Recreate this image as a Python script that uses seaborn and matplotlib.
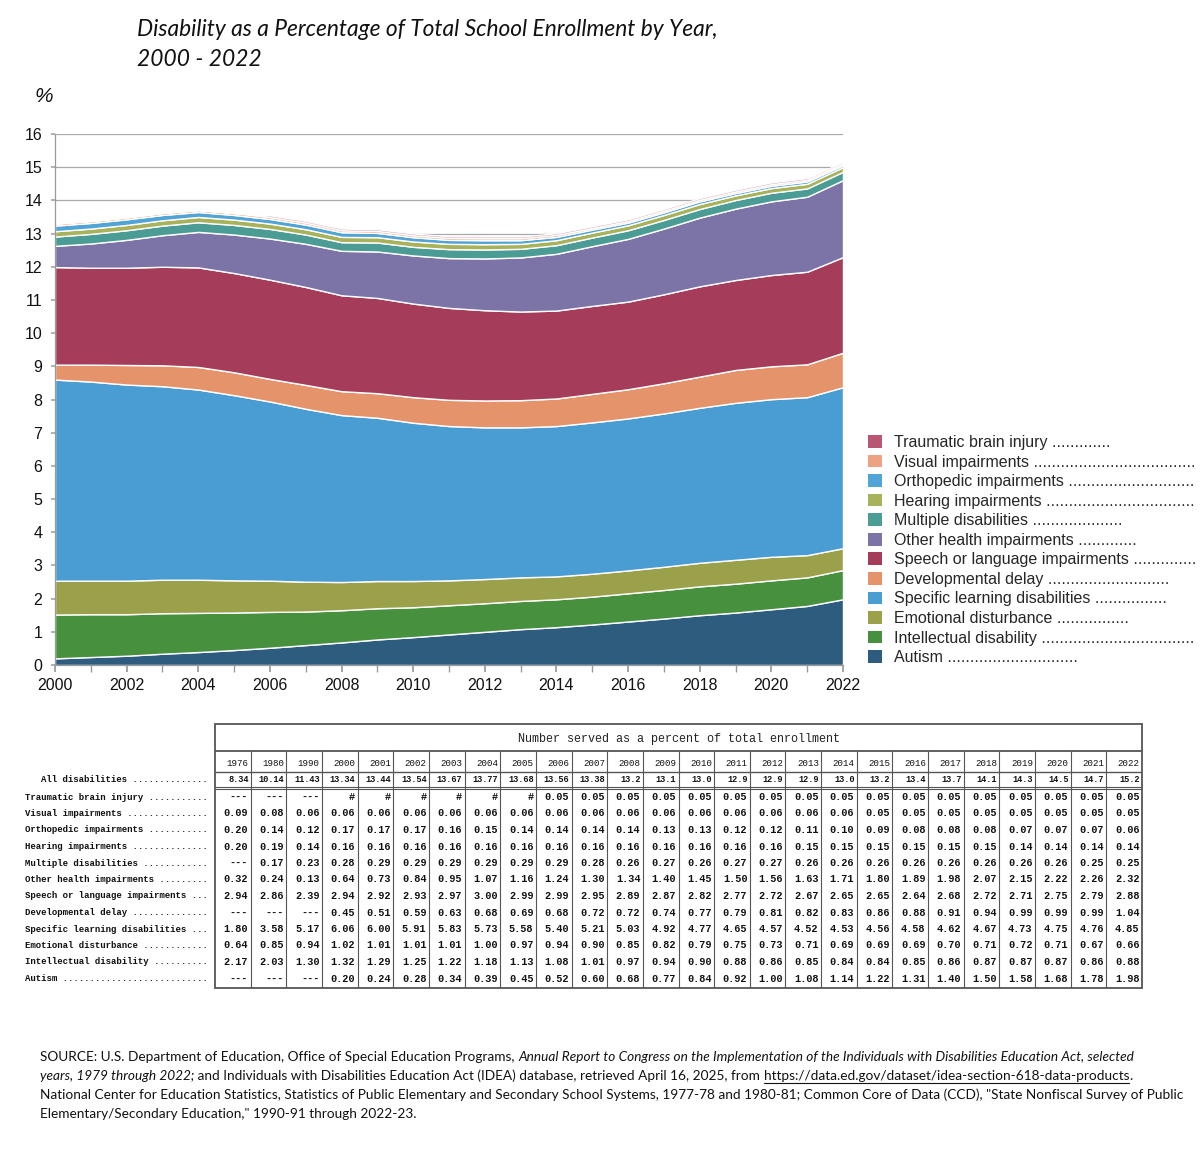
import matplotlib
matplotlib.use("Agg")
import matplotlib.pyplot as plt
import pandas as pd
import seaborn as sns
from matplotlib.patches import Patch, Rectangle
from matplotlib.lines import Line2D

# === Table data (Number served as a percent of total enrollment) ===
table_years = [1976, 1980, 1990, 2000, 2001, 2002, 2003, 2004, 2005, 2006, 2007, 2008,
               2009, 2010, 2011, 2012, 2013, 2014, 2015, 2016, 2017, 2018, 2019, 2020,
               2021, 2022]
all_disabilities = ["8.34", "10.14", "11.43", "13.34", "13.44", "13.54", "13.67", "13.77",
                    "13.68", "13.56", "13.38", "13.2", "13.1", "13.0", "12.9", "12.9", "12.9",
                    "13.0", "13.2", "13.4", "13.7", "14.1", "14.3", "14.5", "14.7", "15.2"]

traumatic_brain = ["---", "---", "---", "#", "#", "#", "#", "#", "#", "0.05", "0.05", "0.05",
                   "0.05", "0.05", "0.05", "0.05", "0.05", "0.05", "0.05", "0.05", "0.05",
                   "0.05", "0.05", "0.05", "0.05", "0.05"]
visual = ["0.09", "0.08", "0.06", "0.06", "0.06", "0.06", "0.06", "0.06", "0.06", "0.06",
          "0.06", "0.06", "0.06", "0.06", "0.06", "0.06", "0.06", "0.06", "0.05", "0.05",
          "0.05", "0.05", "0.05", "0.05", "0.05", "0.05"]
orthopedic = ["0.20", "0.14", "0.12", "0.17", "0.17", "0.17", "0.16", "0.15", "0.14", "0.14",
              "0.14", "0.14", "0.13", "0.13", "0.12", "0.12", "0.11", "0.10", "0.09", "0.08",
              "0.08", "0.08", "0.07", "0.07", "0.07", "0.06"]
hearing = ["0.20", "0.19", "0.14", "0.16", "0.16", "0.16", "0.16", "0.16", "0.16", "0.16",
           "0.16", "0.16", "0.16", "0.16", "0.16", "0.16", "0.15", "0.15", "0.15", "0.15",
           "0.15", "0.15", "0.14", "0.14", "0.14", "0.14"]
multiple = ["---", "0.17", "0.23", "0.28", "0.29", "0.29", "0.29", "0.29", "0.29", "0.29",
            "0.28", "0.26", "0.27", "0.26", "0.27", "0.27", "0.26", "0.26", "0.26", "0.26",
            "0.26", "0.26", "0.26", "0.26", "0.25", "0.25"]
other_health = ["0.32", "0.24", "0.13", "0.64", "0.73", "0.84", "0.95", "1.07", "1.16", "1.24",
                "1.30", "1.34", "1.40", "1.45", "1.50", "1.56", "1.63", "1.71", "1.80", "1.89",
                "1.98", "2.07", "2.15", "2.22", "2.26", "2.32"]
speech = ["2.94", "2.86", "2.39", "2.94", "2.92", "2.93", "2.97", "3.00", "2.99", "2.99",
          "2.95", "2.89", "2.87", "2.82", "2.77", "2.72", "2.67", "2.65", "2.65", "2.64",
          "2.68", "2.72", "2.71", "2.75", "2.79", "2.88"]
developmental = ["---", "---", "---", "0.45", "0.51", "0.59", "0.63", "0.68", "0.69", "0.68",
                 "0.72", "0.72", "0.74", "0.77", "0.79", "0.81", "0.82", "0.83", "0.86", "0.88",
                 "0.91", "0.94", "0.99", "0.99", "0.99", "1.04"]
learning = ["1.80", "3.58", "5.17", "6.06", "6.00", "5.91", "5.83", "5.73", "5.58", "5.40",
            "5.21", "5.03", "4.92", "4.77", "4.65", "4.57", "4.52", "4.53", "4.56", "4.58",
            "4.62", "4.67", "4.73", "4.75", "4.76", "4.85"]
emotional = ["0.64", "0.85", "0.94", "1.02", "1.01", "1.01", "1.01", "1.00", "0.97", "0.94",
             "0.90", "0.85", "0.82", "0.79", "0.75", "0.73", "0.71", "0.69", "0.69", "0.69",
             "0.70", "0.71", "0.72", "0.71", "0.67", "0.66"]
intellectual = ["2.17", "2.03", "1.30", "1.32", "1.29", "1.25", "1.22", "1.18", "1.13", "1.08",
                "1.01", "0.97", "0.94", "0.90", "0.88", "0.86", "0.85", "0.84", "0.84", "0.85",
                "0.86", "0.87", "0.87", "0.87", "0.86", "0.88"]
autism = ["---", "---", "---", "0.20", "0.24", "0.28", "0.34", "0.39", "0.45", "0.52", "0.60",
          "0.68", "0.77", "0.84", "0.92", "1.00", "1.08", "1.14", "1.22", "1.31", "1.40",
          "1.50", "1.58", "1.68", "1.78", "1.98"]

# Table rows, top to bottom
row_names = ["Traumatic brain injury", "Visual impairments", "Orthopedic impairments",
             "Hearing impairments", "Multiple disabilities", "Other health impairments",
             "Speech or language impairments", "Developmental delay",
             "Specific learning disabilities", "Emotional disturbance",
             "Intellectual disability", "Autism"]
row_values = [traumatic_brain, visual, orthopedic, hearing, multiple, other_health, speech,
              developmental, learning, emotional, intellectual, autism]

# number of leader dots after each legend label (None = dots run to the figure edge)
legend_dots = [13, None, None, None, 20, 13, None, 27, 16, 16, None, 29]
colors = ["#b85673", "#eda383", "#50a4d6", "#a8b25b", "#4a9c95", "#7c74a6",
          "#a43c5a", "#e5936a", "#4a9dd3", "#9ba14a", "#47913e", "#2e5c7f"]

W, H = 1200, 1158


def to_num(v):
    return 0.0 if v in ("---", "#") else float(v)


# chart uses 2000-2022 columns
chart_years = table_years[3:]
df = pd.DataFrame({name: [to_num(v) for v in vals[3:]]
                   for name, vals in zip(row_names, row_values)}, index=chart_years)
stack_cols = row_names[::-1]  # autism at the bottom
stack_colors = colors[::-1]

sns.set_theme(style="white")
plt.rcParams["font.family"] = ["Liberation Sans", "DejaVu Sans"]

fig = plt.figure(figsize=(W / 100, H / 100), dpi=100)
fig.patch.set_facecolor("white")
renderer = fig.canvas.get_renderer()


def text_width(s, **kw):
    t = fig.text(0, 0, "|" + s + "|", **kw)
    t2 = fig.text(0, 0, "||", **kw)
    w = t.get_window_extent(renderer).width - t2.get_window_extent(renderer).width
    t.remove()
    t2.remove()
    return w


def fill_dots(name, width_px, **kw):
    s = name + " "
    while text_width(s + ".", **kw) <= width_px:
        s += "."
    return s


# 1. Stacked area chart
ax = fig.add_axes([55 / W, 1 - 665 / H, 788 / W, 531 / H])
ax.stackplot(df.index, [df[c].values for c in stack_cols], colors=stack_colors,
             edgecolor="white", linewidth=1.0)
ax.set_xlim(2000, 2022)
ax.set_ylim(0, 16)
ax.set_yticks(range(0, 17))
ax.set_xticks(range(2000, 2023, 2))
ax.set_xticks(chart_years, minor=True)
ax.yaxis.grid(True, color="#a8a8a8", linewidth=0.9)
ax.xaxis.grid(False)
ax.set_axisbelow(True)
sns.despine(ax=ax, top=True, right=True)
for s in ["left", "bottom"]:
    ax.spines[s].set_color("#9a9a9a")
    ax.spines[s].set_linewidth(0.9)
ax.tick_params(axis="x", which="both", bottom=True, direction="out", length=5,
               color="#9a9a9a", labelsize=11.5, pad=4)
ax.tick_params(axis="y", left=True, length=3, color="#a8a8a8", labelsize=11.5, pad=6)
for lbl in ax.get_xticklabels() + ax.get_yticklabels():
    lbl.set_color("#111111")

leg_size = 11.5
leg_labels = []
for name, nd in zip(row_names, legend_dots):
    if nd is None:
        leg_labels.append(fill_dots(name, 1197 - 893, fontsize=leg_size))
    else:
        leg_labels.append(name + " " + "." * nd)
handles = [Patch(facecolor=c, edgecolor="none") for c in colors]
ax.legend(handles, leg_labels, loc="upper left",
          bbox_to_anchor=(868 / W, 1 - 435 / H), bbox_transform=fig.transFigure,
          frameon=False, fontsize=leg_size, handlelength=0.85, handleheight=0.85,
          handletextpad=0.75, labelspacing=0.285, borderpad=0, borderaxespad=0)

# Title and unit label
title_font = dict(family=["Lato", "DejaVu Sans"], style="italic", fontsize=16.4,
                  color="#111111")
fig.text(137 / W, 1 - 30 / H, "Disability as a Percentage of Total School Enrollment by Year,",
         va="center", **title_font)
fig.text(137 / W, 1 - 59 / H, "2000 - 2022", va="center", **title_font)
fig.text(35 / W, 1 - 97 / H, "%", va="center", family=["Liberation Sans"], style="italic",
         fontsize=15, color="#111111")

# 2. Table
mono = ["Liberation Mono", "DejaVu Sans Mono"]
top_px, bot_px = 724, 988
tax = fig.add_axes([215 / W, 1 - bot_px / H, 927 / W, (bot_px - top_px) / H])
tax.set_xlim(0, len(table_years))
tax.set_ylim(bot_px - top_px, 0)
tax.axis("off")
ncol = len(table_years)
line_c = "#555555"
tax.add_patch(Rectangle((0, 0), ncol, bot_px - top_px, fill=False, edgecolor=line_c,
                        linewidth=1.3, clip_on=False))
tax.hlines(27, 0, ncol, color=line_c, linewidth=1.3)
tax.hlines(48, 0, ncol, color=line_c, linewidth=1.0)
tax.hlines([62.5, 65], 0, ncol, color=line_c, linewidth=0.8)
tax.vlines(range(1, ncol), 27, bot_px - top_px, color=line_c, linewidth=0.8)
tax.text(ncol / 2, 15, "Number served as a percent of total enrollment", ha="center",
         va="center", family=mono, fontsize=8.5, color="#222222")
for i, yr in enumerate(table_years):
    tax.text(i + 0.94, 39, str(yr), ha="right", va="center", family=mono, fontsize=6.6,
             color="#111111")
    tax.text(i + 0.94, 56, all_disabilities[i], ha="right", va="center", family=mono,
             fontsize=6.2, fontweight="bold", color="#111111")
    for r, vals in enumerate(row_values):
        tax.text(i + 0.93, 73 + r * 16.5, vals[i], ha="right", va="center", family=mono,
                 fontsize=7.4, fontweight="bold", color="#111111")

# row labels with leader dots up to the table edge
lab_font = dict(family=mono, fontsize=6.5, fontweight="bold")
lax = fig.add_axes([0, 1 - bot_px / H, 213 / W, (bot_px - top_px) / H])
lax.set_xlim(0, 213)
lax.set_ylim(bot_px - top_px, 0)
lax.axis("off")
lax.text(41, 56, fill_dots("All disabilities", 211 - 41, **lab_font), va="center",
         color="#111111", **lab_font)
for r, name in enumerate(row_names):
    lax.text(25, 73 + r * 16.5, fill_dots(name, 211 - 25, **lab_font), va="center",
             color="#111111", **lab_font)

# 3. Source note (mixed regular / italic / underlined runs)
src_family = ["Lato", "DejaVu Sans"]
source_lines = [
    [("SOURCE: U.S. Department of Education, Office of Special Education Programs, ", "normal", False),
     ("Annual Report to Congress on the Implementation of the Individuals with Disabilities Education Act, selected", "italic", False)],
    [("years, 1979 through 2022;", "italic", False),
     (" and Individuals with Disabilities Education Act (IDEA) database, retrieved April 16, 2025, from ", "normal", False),
     ("https://data.ed.gov/dataset/idea-section-618-data-products", "normal", True),
     (".", "normal", False)],
    [("National Center for Education Statistics, Statistics of Public Elementary and Secondary School Systems, 1977-78 and 1980-81; Common Core of Data (CCD), \"State Nonfiscal Survey of Public", "normal", False)],
    [("Elementary/Secondary Education,\" 1990-91 through 2022-23.", "normal", False)],
]
base = 10.0
src_size = base * 1134 / text_width(source_lines[2][0][0], fontsize=base, family=src_family)
for k, runs in enumerate(source_lines):
    x = 40
    y = 1061 + k * 19
    for text, style, underline in runs:
        fig.text(x / W, 1 - y / H, text, fontsize=src_size, style=style,
                 family=src_family, va="baseline", color="#111111")
        w = text_width(text, fontsize=src_size, style=style, family=src_family)
        if underline:
            fig.add_artist(Line2D([x / W, (x + w) / W], [1 - (y + 2.5) / H] * 2,
                                  color="#111111", linewidth=0.8))
        x += w

fig.savefig("out.png", dpi=100)
